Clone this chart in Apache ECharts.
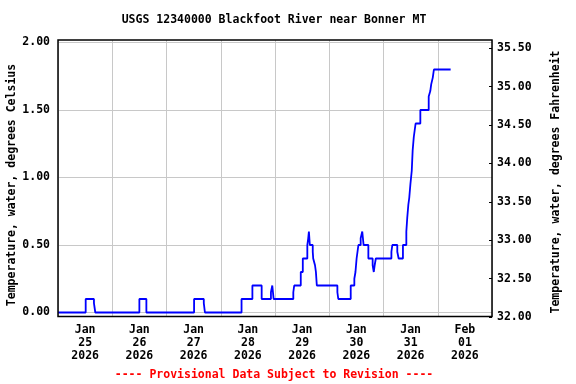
<!DOCTYPE html>
<html>
<head>
<meta charset="utf-8">
<script src="https://cdn.jsdelivr.net/npm/echarts@6/dist/echarts.min.js"></script>
<style>html,body{margin:0;padding:0;background:#fff}#c{width:576px;height:384px}</style>
</head>
<body>
<div id="c"></div>
<script>
// Hours since 2026-01-25 00:00 (local) at which each reading begins
const hours = [0, 12.25, 15.9, 16.5, 36.0, 39.1, 60.2, 64.5, 65.0,
  81.2, 86.0, 90.1, 94.2, 94.8, 95.4, 104.1, 104.5, 107.4, 108.3, 110.3, 110.7, 111.0, 111.4,
  112.7, 112.9, 113.7, 114.1, 114.5, 123.6, 124.0, 129.5, 131.1, 131.6, 132.1, 132.9, 133.9,
  134.6, 135.2, 137.3, 139.2, 139.7, 140.1, 140.6, 147.5, 147.9, 150.1, 150.7, 152.6, 154.1,
  154.5, 155.0, 155.4, 155.9, 156.2, 156.5, 156.9, 157.4, 157.8, 158.2, 160.3, 164.0, 164.7,
  165.1, 165.8, 166.3, 173.7];
// Water temperature, degrees Celsius
const tempC = [0.0, 0.1, 0.07, 0.0, 0.1, 0.0, 0.1, 0.07, 0.0,
  0.1, 0.2, 0.1, 0.15, 0.2, 0.1, 0.15, 0.2, 0.3, 0.4, 0.5, 0.55, 0.6, 0.5,
  0.45, 0.4, 0.35, 0.3, 0.2, 0.15, 0.1, 0.2, 0.25, 0.3, 0.4, 0.5, 0.55,
  0.6, 0.5, 0.4, 0.35, 0.3, 0.35, 0.4, 0.45, 0.5, 0.45, 0.4, 0.5, 0.6,
  0.7, 0.8, 0.85, 0.95, 1.0, 1.05, 1.2, 1.3, 1.35, 1.4, 1.5, 1.6, 1.64,
  1.69, 1.74, 1.8, 1.8];
const dayLabels = ['Jan\n25\n2026', 'Jan\n26\n2026', 'Jan\n27\n2026', 'Jan\n28\n2026',
  'Jan\n29\n2026', 'Jan\n30\n2026', 'Jan\n31\n2026', 'Feb\n01\n2026'];
const titleText = 'USGS 12340000 Blackfoot River near Bonner MT';
const leftName = 'Temperature, water, degrees Celsius';
const rightName = 'Temperature, water, degrees Fahrenheit';
const footer = '---- Provisional Data Subject to Revision ----';

const FONT = 'DejaVu Sans Mono';
const lbl = {fontFamily: FONT, fontWeight: 'bold', fontSize: 11.5, color: '#000'};
const grid = '#c8c8c8';
const hidden = {show: false, axisLine: {show: false, onZero: false}, axisTick: {show: false}, axisLabel: {show: false}, splitLine: {show: false}, minorTick: {show: false}};

const chart = echarts.init(document.getElementById('c'), null, {renderer: 'canvas'});
chart.setOption({
  animation: false,
  backgroundColor: '#fff',
  grid: [
    {left: 58, right: 84, top: 40, bottom: 67.5, show: true, borderColor: '#000', borderWidth: 1.5, backgroundColor: 'transparent', z: 5},
    {left: 58, right: 84, top: 42.5, bottom: 71.5},
    {left: 58, right: 84, top: 48.3, bottom: 66.9}
  ],
  xAxis: [
    {type: 'value', gridIndex: 0, min: 0, max: 192, interval: 24,
     axisLine: {show: false, onZero: false}, axisTick: {show: false}, axisLabel: {show: false},
     splitLine: {show: true, lineStyle: {color: grid, width: 1}}},
    {type: 'category', gridIndex: 0, data: dayLabels, boundaryGap: true, position: 'bottom',
     axisLine: {show: false, onZero: false}, axisTick: {show: false}, splitLine: {show: false},
     axisLabel: Object.assign({margin: 7, lineHeight: 13, interval: 0}, lbl)},
    Object.assign({type: 'value', gridIndex: 1, min: 0, max: 192}, hidden),
    Object.assign({type: 'value', gridIndex: 2, min: 0, max: 192}, hidden)
  ],
  yAxis: [
    Object.assign({type: 'value', gridIndex: 0, min: 0, max: 1}, hidden),
    {type: 'value', gridIndex: 1, min: 0, max: 2, interval: 0.5, position: 'left',
     axisLine: {show: false, onZero: false}, axisTick: {show: false},
     axisLabel: Object.assign({margin: 8, formatter: v => v.toFixed(2)}, lbl),
     splitLine: {show: true, lineStyle: {color: grid, width: 1}}},
    {type: 'value', gridIndex: 2, min: 32, max: 35.5, interval: 0.5, position: 'right',
     axisLine: {show: false, onZero: false}, axisTick: {show: true, inside: true, length: 3, lineStyle: {color: '#000', width: 1}},
     axisLabel: Object.assign({margin: 5, formatter: v => v.toFixed(2)}, lbl),
     splitLine: {show: false}}
  ],
  series: [{
    type: 'line', xAxisIndex: 2, yAxisIndex: 1, step: 'end', showSymbol: false, clip: false,
    data: hours.map((h, i) => [h, tempC[i]]),
    lineStyle: {color: '#0000ff', width: 1.8}, z: 3
  }],
  graphic: [
    {type: 'text', x: 274, y: 20, style: {text: titleText, textAlign: 'center', textVerticalAlign: 'middle', font: 'bold 11.5px "DejaVu Sans Mono"', fill: '#000'}},
    {type: 'text', x: 274, y: 375, style: {text: footer, textAlign: 'center', textVerticalAlign: 'middle', font: 'bold 11.5px "DejaVu Sans Mono"', fill: '#ff0000'}},
    {type: 'text', x: 12, y: 185, rotation: Math.PI / 2, style: {text: leftName, textAlign: 'center', textVerticalAlign: 'middle', font: 'bold 11.5px "DejaVu Sans Mono"', fill: '#000'}},
    {type: 'text', x: 556, y: 182, rotation: Math.PI / 2, style: {text: rightName, textAlign: 'center', textVerticalAlign: 'middle', font: 'bold 11.5px "DejaVu Sans Mono"', fill: '#000'}}
  ]
});
</script>
</body>
</html>
